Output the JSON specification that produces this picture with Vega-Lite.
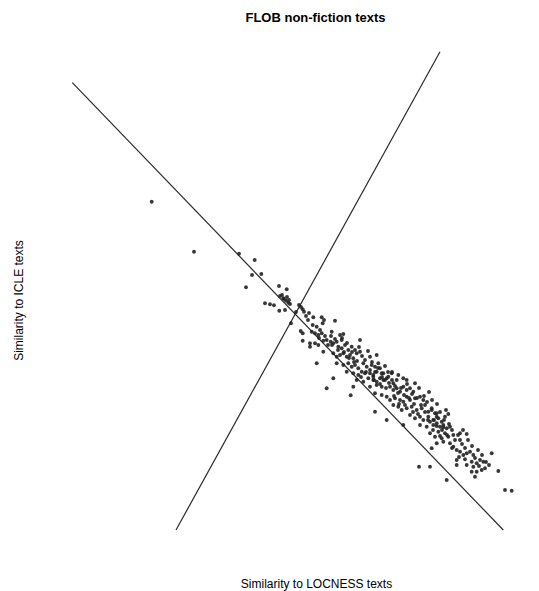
{
  "$schema": "https://vega.github.io/schema/vega-lite/v6.json",
  "width": 489,
  "height": 511,
  "autosize": {"type": "none"},
  "padding": {"top": 40, "left": 40, "right": 10, "bottom": 40},
  "background": "white",
  "title": {"text": "FLOB non-fiction texts", "font": "Liberation Sans", "fontSize": 13, "fontWeight": "bold", "color": "black", "anchor": "middle", "dx": 31, "offset": 5, "baseline": "alphabetic"},
  "config": {"view": {"stroke": null}},
  "datasets": {
    "points": [
      {"locness": 151.7, "icle": 389.3}, {"locness": 194, "icle": 339.3}, {"locness": 239, "icle": 337.3}, {"locness": 254.7, "icle": 331}, {"locness": 252, "icle": 316}, {"locness": 261.3, "icle": 317}, {"locness": 246, "icle": 303.7}, {"locness": 279, "icle": 305}, {"locness": 286.7, "icle": 301.7}, {"locness": 265, "icle": 287.7}, {"locness": 270, "icle": 286.7}, {"locness": 274, "icle": 285.7}, {"locness": 280, "icle": 295}, {"locness": 283.3, "icle": 292.7}, {"locness": 286, "icle": 290.3}, {"locness": 288.3, "icle": 288.3}, {"locness": 290, "icle": 287}, {"locness": 279.3, "icle": 280.3}, {"locness": 285, "icle": 281}, {"locness": 302.7, "icle": 281.7}, {"locness": 304, "icle": 279.3}, {"locness": 291, "icle": 267.7}, {"locness": 308, "icle": 271}, {"locness": 300.7, "icle": 260}, {"locness": 302.7, "icle": 257.7}, {"locness": 302.7, "icle": 250.3}, {"locness": 310, "icle": 244.3},
      {"locness": 313.3, "icle": 273.7}, {"locness": 321.7, "icle": 273.7}, {"locness": 324, "icle": 271}, {"locness": 322.7, "icle": 267.7}, {"locness": 335, "icle": 270.3}, {"locness": 312.7, "icle": 266}, {"locness": 316.7, "icle": 264.3}, {"locness": 311.7, "icle": 259.3}, {"locness": 315, "icle": 257.7}, {"locness": 318.3, "icle": 256}, {"locness": 321.7, "icle": 257.7}, {"locness": 331.7, "icle": 259.3}, {"locness": 340, "icle": 256}, {"locness": 343.3, "icle": 257}, {"locness": 310, "icle": 247.7}, {"locness": 315, "icle": 247.7}, {"locness": 318.3, "icle": 246}, {"locness": 323.3, "icle": 250.3}, {"locness": 326.7, "icle": 251}, {"locness": 330.7, "icle": 249.3}, {"locness": 333.3, "icle": 247.7}, {"locness": 336.7, "icle": 249.3}, {"locness": 341.7, "icle": 251}, {"locness": 360, "icle": 251}, {"locness": 338.3, "icle": 244.3}, {"locness": 341.7, "icle": 242.7}, {"locness": 345, "icle": 246}, {"locness": 348.3, "icle": 241}, {"locness": 351.7, "icle": 244.3}, {"locness": 355, "icle": 241}, {"locness": 323.3, "icle": 239.3}, {"locness": 333.3, "icle": 237.7}, {"locness": 336.7, "icle": 234.3}, {"locness": 340, "icle": 236}, {"locness": 343.3, "icle": 237.7}, {"locness": 346.7, "icle": 234.3}, {"locness": 350, "icle": 236}, {"locness": 353.3, "icle": 232.7}, {"locness": 356.7, "icle": 237.7}, {"locness": 360, "icle": 239.3}, {"locness": 370, "icle": 234.3}, {"locness": 376.7, "icle": 236}, {"locness": 316.7, "icle": 227.7}, {"locness": 336.7, "icle": 227.7}, {"locness": 343.3, "icle": 226}, {"locness": 348.3, "icle": 227.7}, {"locness": 351.7, "icle": 224.3}, {"locness": 355, "icle": 226}, {"locness": 358.3, "icle": 222.7}, {"locness": 363.3, "icle": 227.7}, {"locness": 366.7, "icle": 224.3}, {"locness": 346.7, "icle": 219.3}, {"locness": 353.3, "icle": 217.7}, {"locness": 358.3, "icle": 216}, {"locness": 361.7, "icle": 219.3}, {"locness": 365, "icle": 217.7}, {"locness": 370, "icle": 221}, {"locness": 373.3, "icle": 216}, {"locness": 376.7, "icle": 219.3}, {"locness": 381.7, "icle": 217.7}, {"locness": 333.3, "icle": 212.7}, {"locness": 356.7, "icle": 211}, {"locness": 363.3, "icle": 209.3}, {"locness": 368.3, "icle": 212.7}, {"locness": 373.3, "icle": 211}, {"locness": 376.7, "icle": 209.3}, {"locness": 380, "icle": 212.7}, {"locness": 383.3, "icle": 211}, {"locness": 386.7, "icle": 212.7}, {"locness": 326.7, "icle": 202.7}, {"locness": 353.3, "icle": 204.3}, {"locness": 370, "icle": 204.3}, {"locness": 376.7, "icle": 206}, {"locness": 381.7, "icle": 204.3}, {"locness": 350.7, "icle": 195.7},
      {"locness": 371.7, "icle": 226}, {"locness": 375, "icle": 224.3}, {"locness": 378.3, "icle": 227.7}, {"locness": 380, "icle": 222.7}, {"locness": 370, "icle": 217.7}, {"locness": 373.3, "icle": 214.3}, {"locness": 383.3, "icle": 217.7}, {"locness": 385, "icle": 211}, {"locness": 388.3, "icle": 214.3}, {"locness": 391.7, "icle": 217.7}, {"locness": 393.3, "icle": 207.7}, {"locness": 396.7, "icle": 211}, {"locness": 398.3, "icle": 216}, {"locness": 403.3, "icle": 212.7}, {"locness": 406.7, "icle": 211}, {"locness": 390, "icle": 204.3}, {"locness": 393.3, "icle": 201}, {"locness": 396.7, "icle": 202.7}, {"locness": 400, "icle": 199.3}, {"locness": 403.3, "icle": 204.3}, {"locness": 406.7, "icle": 201}, {"locness": 410, "icle": 202.7}, {"locness": 413.3, "icle": 199.3}, {"locness": 415, "icle": 207.7}, {"locness": 375, "icle": 197.7}, {"locness": 381.7, "icle": 196}, {"locness": 386.7, "icle": 194.3}, {"locness": 390, "icle": 191}, {"locness": 395, "icle": 192.7}, {"locness": 400, "icle": 191}, {"locness": 403.3, "icle": 189.3}, {"locness": 406.7, "icle": 194.3}, {"locness": 410, "icle": 191}, {"locness": 415, "icle": 192.7}, {"locness": 420, "icle": 194.3}, {"locness": 423.3, "icle": 191}, {"locness": 375, "icle": 179.3}, {"locness": 393.3, "icle": 186}, {"locness": 398.3, "icle": 184.3}, {"locness": 401.7, "icle": 181}, {"locness": 406.7, "icle": 182.7}, {"locness": 411.7, "icle": 184.3}, {"locness": 416.7, "icle": 181}, {"locness": 421.7, "icle": 182.7}, {"locness": 425, "icle": 186}, {"locness": 428.3, "icle": 179.3}, {"locness": 431.7, "icle": 182.7}, {"locness": 436.7, "icle": 177.7}, {"locness": 386.7, "icle": 171}, {"locness": 410, "icle": 176}, {"locness": 415, "icle": 172.7}, {"locness": 420, "icle": 174.3}, {"locness": 423.3, "icle": 171}, {"locness": 428.3, "icle": 174.3}, {"locness": 433.3, "icle": 171}, {"locness": 438.3, "icle": 172.7}, {"locness": 441.7, "icle": 169.3}, {"locness": 445, "icle": 174.3}, {"locness": 403.3, "icle": 166}, {"locness": 420, "icle": 166}, {"locness": 426.7, "icle": 164.3}, {"locness": 436.7, "icle": 165}, {"locness": 443.3, "icle": 163.7},
      {"locness": 431.7, "icle": 181}, {"locness": 435, "icle": 177.7}, {"locness": 436.7, "icle": 174.3}, {"locness": 448.3, "icle": 177}, {"locness": 430, "icle": 169.3}, {"locness": 433.3, "icle": 166}, {"locness": 436.7, "icle": 167.7}, {"locness": 440, "icle": 164.3}, {"locness": 443.3, "icle": 166}, {"locness": 446.7, "icle": 162.7}, {"locness": 450, "icle": 164.3}, {"locness": 438.3, "icle": 159.3}, {"locness": 445, "icle": 157.7}, {"locness": 430, "icle": 157.7}, {"locness": 435, "icle": 154.3}, {"locness": 441.7, "icle": 152.7}, {"locness": 448.3, "icle": 154.3}, {"locness": 453.3, "icle": 156}, {"locness": 460, "icle": 157.7}, {"locness": 466.7, "icle": 157}, {"locness": 436.7, "icle": 147.7}, {"locness": 443.3, "icle": 149.3}, {"locness": 450, "icle": 147.7}, {"locness": 453.3, "icle": 144.3}, {"locness": 456.7, "icle": 141}, {"locness": 460, "icle": 151}, {"locness": 431.7, "icle": 142.7}, {"locness": 460, "icle": 139.3}, {"locness": 463.3, "icle": 136}, {"locness": 466.7, "icle": 137.7}, {"locness": 470, "icle": 139.3}, {"locness": 473.3, "icle": 136}, {"locness": 491.7, "icle": 137.7}, {"locness": 456.7, "icle": 131}, {"locness": 465, "icle": 131.7}, {"locness": 471.7, "icle": 129.3}, {"locness": 476.7, "icle": 127.7}, {"locness": 480, "icle": 131}, {"locness": 483.3, "icle": 129.3}, {"locness": 456.7, "icle": 126}, {"locness": 466.7, "icle": 126}, {"locness": 473.3, "icle": 124.3}, {"locness": 481.7, "icle": 121}, {"locness": 485, "icle": 122.7}, {"locness": 476.7, "icle": 119.3}, {"locness": 471.7, "icle": 119.3}, {"locness": 498.3, "icle": 120}, {"locness": 475, "icle": 114.3}, {"locness": 446.7, "icle": 111}, {"locness": 505, "icle": 101}, {"locness": 511.7, "icle": 100.3}, {"locness": 419, "icle": 124.3}, {"locness": 430, "icle": 124.3},
      {"locness": 319, "icle": 253}, {"locness": 325, "icle": 255}, {"locness": 328, "icle": 246}, {"locness": 320, "icle": 261}, {"locness": 332, "icle": 246}, {"locness": 338, "icle": 241}, {"locness": 344, "icle": 239}, {"locness": 347, "icle": 248}, {"locness": 335, "icle": 252}, {"locness": 342, "icle": 253}, {"locness": 349, "icle": 233}, {"locness": 331, "icle": 255},
      {"locness": 352, "icle": 239}, {"locness": 357, "icle": 230}, {"locness": 362, "icle": 235}, {"locness": 365, "icle": 231}, {"locness": 368, "icle": 240}, {"locness": 359, "icle": 244}, {"locness": 354, "icle": 229}, {"locness": 366, "icle": 219}, {"locness": 361, "icle": 214},
      {"locness": 372, "icle": 229}, {"locness": 375, "icle": 219}, {"locness": 378, "icle": 223}, {"locness": 382, "icle": 214}, {"locness": 385, "icle": 225}, {"locness": 388, "icle": 219}, {"locness": 380, "icle": 207}, {"locness": 386, "icle": 203}, {"locness": 374, "icle": 211}, {"locness": 389, "icle": 208},
      {"locness": 392, "icle": 211}, {"locness": 395, "icle": 205}, {"locness": 398, "icle": 198}, {"locness": 401, "icle": 203}, {"locness": 404, "icle": 196}, {"locness": 407, "icle": 207}, {"locness": 409, "icle": 193}, {"locness": 394, "icle": 195}, {"locness": 399, "icle": 187}, {"locness": 405, "icle": 186}, {"locness": 392, "icle": 219},
      {"locness": 412, "icle": 197}, {"locness": 414, "icle": 187}, {"locness": 417, "icle": 193}, {"locness": 419, "icle": 203}, {"locness": 421, "icle": 186}, {"locness": 424, "icle": 195}, {"locness": 427, "icle": 189}, {"locness": 429, "icle": 199}, {"locness": 413, "icle": 179}, {"locness": 418, "icle": 177}, {"locness": 425, "icle": 179}, {"locness": 428, "icle": 171},
      {"locness": 432, "icle": 191}, {"locness": 434, "icle": 171}, {"locness": 437, "icle": 187}, {"locness": 440, "icle": 179}, {"locness": 442, "icle": 161}, {"locness": 444, "icle": 171}, {"locness": 447, "icle": 156}, {"locness": 449, "icle": 167}, {"locness": 433, "icle": 161}, {"locness": 440, "icle": 155}, {"locness": 446, "icle": 181},
      {"locness": 452, "icle": 161}, {"locness": 455, "icle": 151}, {"locness": 458, "icle": 156}, {"locness": 462, "icle": 147}, {"locness": 465, "icle": 143}, {"locness": 468, "icle": 151}, {"locness": 452, "icle": 143}, {"locness": 459, "icle": 134}, {"locness": 463, "icle": 161},
      {"locness": 472, "icle": 145}, {"locness": 475, "icle": 133}, {"locness": 478, "icle": 141}, {"locness": 482, "icle": 136}, {"locness": 486, "icle": 129}, {"locness": 489, "icle": 126}, {"locness": 479, "icle": 125},
      {"locness": 282, "icle": 296}, {"locness": 284, "icle": 292}, {"locness": 287, "icle": 294}, {"locness": 289, "icle": 291}, {"locness": 299, "icle": 286}, {"locness": 301, "icle": 284}, {"locness": 296, "icle": 279}, {"locness": 306, "icle": 275}, {"locness": 309, "icle": 278}
    ],
    "lines": [
      {"x1": 72.3, "y1": 508.3, "x2": 503.3, "y2": 61},
      {"x1": 176, "y1": 61, "x2": 440, "y2": 539.3}
    ]
  },
  "encoding": {
    "x": {"type": "quantitative"},
    "y": {"type": "quantitative"}
  },
  "layer": [
    {
      "data": {"name": "lines"},
      "mark": {"type": "rule", "color": "#2a2a2a", "strokeWidth": 1.2},
      "encoding": {
        "x": {"field": "x1", "type": "quantitative", "scale": {"domain": [40, 529], "nice": false, "zero": false},
          "axis": {"domain": false, "ticks": false, "labels": false, "grid": false, "title": "Similarity to LOCNESS texts", "titleFont": "Liberation Sans", "titleFontSize": 12, "titleFontWeight": "normal", "titleColor": "black", "titleX": 276, "titleY": 32, "titleBaseline": "middle", "titleAlign": "center", "titleAnchor": null}},
        "y": {"field": "y1", "type": "quantitative", "scale": {"domain": [40, 551], "nice": false, "zero": false},
          "axis": {"domain": false, "ticks": false, "labels": false, "grid": false, "title": "Similarity to ICLE texts", "titleFont": "Liberation Sans", "titleFontSize": 12, "titleFontWeight": "normal", "titleColor": "black", "titleX": -22, "titleY": 260, "titleAngle": -90, "titleBaseline": "middle", "titleAlign": "center", "titleAnchor": null}},
        "x2": {"field": "x2"},
        "y2": {"field": "y2"}
      }
    },
    {
      "data": {"name": "points"},
      "mark": {"type": "circle", "color": "#222222", "opacity": 0.9, "size": 15},
      "encoding": {
        "x": {"field": "locness", "type": "quantitative"},
        "y": {"field": "icle", "type": "quantitative"}
      }
    }
  ]
}
